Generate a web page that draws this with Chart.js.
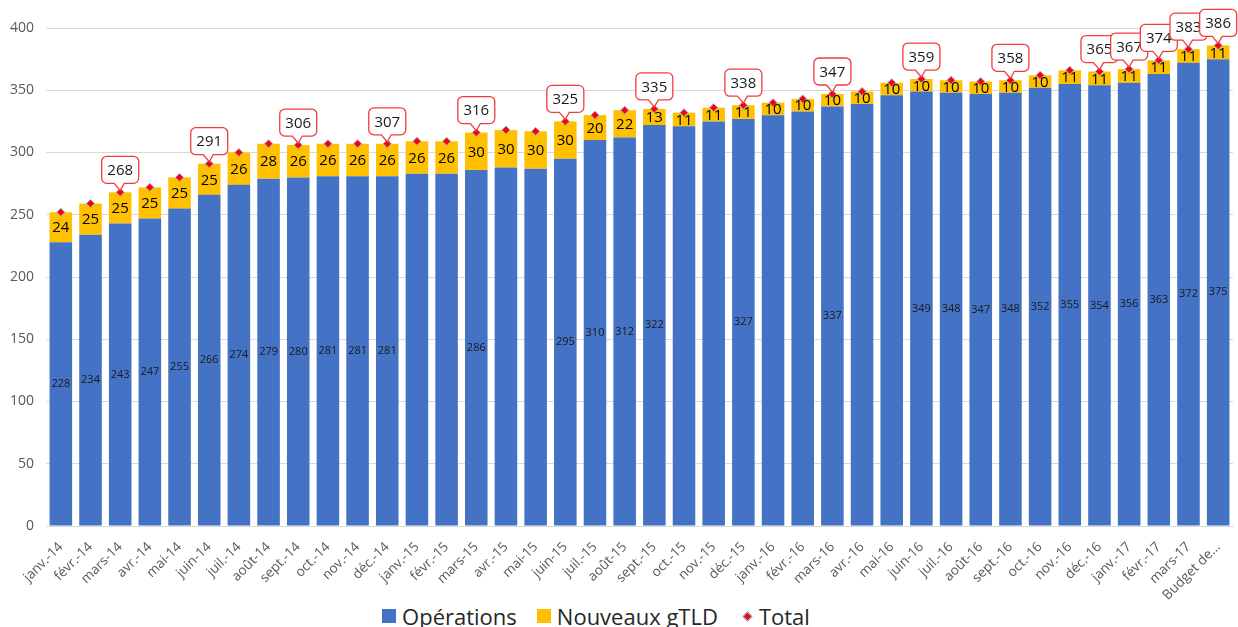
<!DOCTYPE html>
<html>
<head>
<meta charset="utf-8">
<script src="https://cdn.jsdelivr.net/npm/chart.js@4.4.0/dist/chart.umd.min.js"></script>
<style>
  html, body { margin: 0; padding: 0; background: #fff; }
  #wrap { width: 1238px; height: 627px; position: relative; overflow: hidden; }
  #box { position: absolute; left: 0; top: 0; width: 1238px; height: 600px; }
  #legend {
    position: absolute; left: 0; top: 603px; width: 1192px; height: 26px;
    display: flex; justify-content: center; align-items: center;
    font: 22px "Open Sans", "Noto Sans", sans-serif; color: #262626;
  }
  #legend .item { display: flex; align-items: center; margin: 0 10px; }
  #legend .sw { width: 14px; height: 14px; margin-right: 6px; }
  #legend .dm { width: 7px; height: 7px; margin: 0 8px 0 6px; transform: rotate(45deg);
                background: #ff0000; border: 1px solid #8ea9db; box-sizing: border-box; }
</style>
</head>
<body>
<div id="wrap">
  <div id="box"><canvas id="chart"></canvas></div>
  <div id="legend"></div>
</div>
<script>
// Categories (months + budget)
const months = [
    'janv.-14', 'févr.-14', 'mars-14', 'avr.-14', 'mai-14', 'juin-14', 'juil.-14', 'août-14', 'sept.-14', 'oct.-14', 'nov.-14', 'déc.-14',
    'janv.-15', 'févr.-15', 'mars-15', 'avr.-15', 'mai-15', 'juin-15', 'juil.-15', 'août-15', 'sept.-15', 'oct.-15', 'nov.-15', 'déc.-15',
    'janv.-16', 'févr.-16', 'mars-16', 'avr.-16', 'mai-16', 'juin-16', 'juil.-16', 'août-16', 'sept.-16', 'oct.-16', 'nov.-16', 'déc.-16',
    'janv.-17', 'févr.-17', 'mars-17', 'Budget de...'
];

// Series values
const operations = [
    228, 234, 243, 247, 255, 266, 274, 279, 280, 281, 281, 281,
    283, 283, 286, 288, 287, 295, 310, 312, 322, 321, 325, 327,
    330, 333, 337, 339, 346, 349, 348, 347, 348, 352, 355, 354,
    356, 363, 372, 375
];
const nouveauxGtld = [
    24, 25, 25, 25, 25, 25, 26, 28, 26, 26, 26, 26,
    26, 26, 30, 30, 30, 30, 20, 22, 13, 11, 11, 11,
    10, 10, 10, 10, 10, 10, 10, 10, 10, 10, 11, 11,
    11, 11, 11, 11
];
const totals = [
    252, 259, 268, 272, 280, 291, 300, 307, 306, 307, 307, 307,
    309, 309, 316, 318, 317, 325, 330, 334, 335, 332, 336, 338,
    340, 343, 347, 349, 356, 359, 358, 357, 358, 362, 366, 365,
    367, 374, 383, 386
];

// Which points carry a label in the picture
const opsLabelShown = [
    1, 1, 1, 1, 1, 1, 1, 1, 1, 1, 1, 1,
    0, 0, 1, 0, 0, 1, 1, 1, 1, 0, 0, 1,
    0, 0, 1, 0, 0, 1, 1, 1, 1, 1, 1, 1,
    1, 1, 1, 1
];
const totalCallouts = [2, 5, 8, 11, 14, 17, 20, 23, 26, 29, 32, 35, 36, 37, 38, 39];

const yTicks = [0, 50, 100, 150, 200, 250, 300, 350, 400];

const FONT = '"Open Sans", "Noto Sans", sans-serif';

// draws the numbers inside the bars
const barLabels = {
    id: 'barLabels',
    afterDatasetsDraw(chart) {
        const ctx = chart.ctx;
        ctx.save();
        ctx.textAlign = 'center';
        ctx.textBaseline = 'middle';

        const opsMeta = chart.getDatasetMeta(0);
        ctx.font = '11px ' + FONT;
        ctx.fillStyle = '#1a1a1a';
        opsMeta.data.forEach((bar, i) => {
            if (!opsLabelShown[i]) return;
            ctx.fillText(operations[i], bar.x, (bar.y + bar.base) / 2);
        });

        const gMeta = chart.getDatasetMeta(1);
        ctx.font = '15px ' + FONT;
        ctx.fillStyle = '#000';
        gMeta.data.forEach((bar, i) => {
            ctx.fillText(nouveauxGtld[i], bar.x, (bar.y + bar.base) / 2 + 1);
        });
        ctx.restore();
    }
};

// red-bordered speech bubbles above some total markers
const callouts = {
    id: 'callouts',
    afterDraw(chart) {
        const ctx = chart.ctx;
        const meta = chart.getDatasetMeta(2);
        const w = 37, h = 27, gap = 9, r = 5;
        ctx.save();
        totalCallouts.forEach(i => {
            const p = meta.data[i];
            const cx = Math.min(p.x, chart.width - w / 2 - 1);
            const bottom = p.y - gap;
            const top = bottom - h;
            const left = cx - w / 2, right = cx + w / 2;
            ctx.beginPath();
            ctx.moveTo(left + r, top);
            ctx.lineTo(right - r, top);
            ctx.arcTo(right, top, right, top + r, r);
            ctx.lineTo(right, bottom - r);
            ctx.arcTo(right, bottom, right - r, bottom, r);
            ctx.lineTo(cx + 4, bottom);
            ctx.lineTo(p.x, p.y - 2);
            ctx.lineTo(cx - 6, bottom);
            ctx.lineTo(left + r, bottom);
            ctx.arcTo(left, bottom, left, bottom - r, r);
            ctx.lineTo(left, top + r);
            ctx.arcTo(left, top, left + r, top, r);
            ctx.closePath();
            ctx.fillStyle = '#fff';
            ctx.fill();
            ctx.strokeStyle = '#f23c3c';
            ctx.lineWidth = 1.3;
            ctx.stroke();
            ctx.fillStyle = '#1a1a1a';
            ctx.font = '15px ' + FONT;
            ctx.textAlign = 'center';
            ctx.textBaseline = 'middle';
            ctx.fillText(totals[i], cx, (top + bottom) / 2 + 1);
        });
        ctx.restore();
    }
};

const ctx = document.getElementById('chart').getContext('2d');

const chart = new Chart(ctx, {
    type: 'bar',
    data: {
        labels: months,
        datasets: [
            {
                label: 'Opérations',
                data: operations,
                backgroundColor: '#4472C4',
                borderWidth: 0,
                barPercentage: 0.76,
                categoryPercentage: 1,
                stack: 's',
                order: 2
            },
            {
                label: 'Nouveaux gTLD',
                data: nouveauxGtld,
                backgroundColor: '#FFC000',
                borderWidth: 0,
                barPercentage: 0.76,
                categoryPercentage: 1,
                stack: 's',
                order: 2
            },
            {
                type: 'line',
                label: 'Total',
                data: totals,
                showLine: false,
                pointStyle: 'rectRot',
                pointRadius: 4,
                pointBackgroundColor: '#FF0000',
                pointBorderColor: '#8EA9DB',
                pointBorderWidth: 1,
                order: 1
            }
        ]
    },
    options: {
        responsive: true,
        maintainAspectRatio: false,
        animation: false,
        layout: { padding: { top: 28, right: 1, left: 0, bottom: 0 } },
        plugins: {
            tooltip: { enabled: false },
            legend: { display: false }
        },
        scales: {
            x: {
                stacked: true,
                grid: { display: false, drawTicks: false },
                border: { color: '#D9D9D9' },
                ticks: {
                    autoSkip: false,
                    maxRotation: 45,
                    minRotation: 45,
                    color: '#595959',
                    font: { family: FONT, size: 13.5 },
                    padding: 13
                },
                afterFit(scale) {
                    scale.height = 74;
                    scale.paddingRight = 0;
                    scale.paddingLeft = 0;
                }
            },
            y: {
                stacked: true,
                min: 0,
                max: 400,
                afterBuildTicks(scale) { scale.ticks = yTicks.map(v => ({ value: v })); },
                grid: { color: '#D9D9D9', drawTicks: false },
                border: { display: false },
                ticks: {
                    color: '#595959',
                    font: { family: FONT, size: 14 },
                    padding: 12
                },
                afterFit(scale) { scale.width = 46; }
            }
        }
    },
    plugins: [barLabels, callouts]
});

// legend built from the datasets
const legend = document.getElementById('legend');
chart.data.datasets.forEach((ds, i) => {
    const item = document.createElement('div');
    item.className = 'item';
    const mark = document.createElement('span');
    if (ds.type === 'line') {
        mark.className = 'dm';
    } else {
        mark.className = 'sw';
        mark.style.background = ds.backgroundColor;
    }
    item.appendChild(mark);
    item.appendChild(document.createTextNode(ds.label));
    legend.appendChild(item);
});
</script>
</body>
</html>
